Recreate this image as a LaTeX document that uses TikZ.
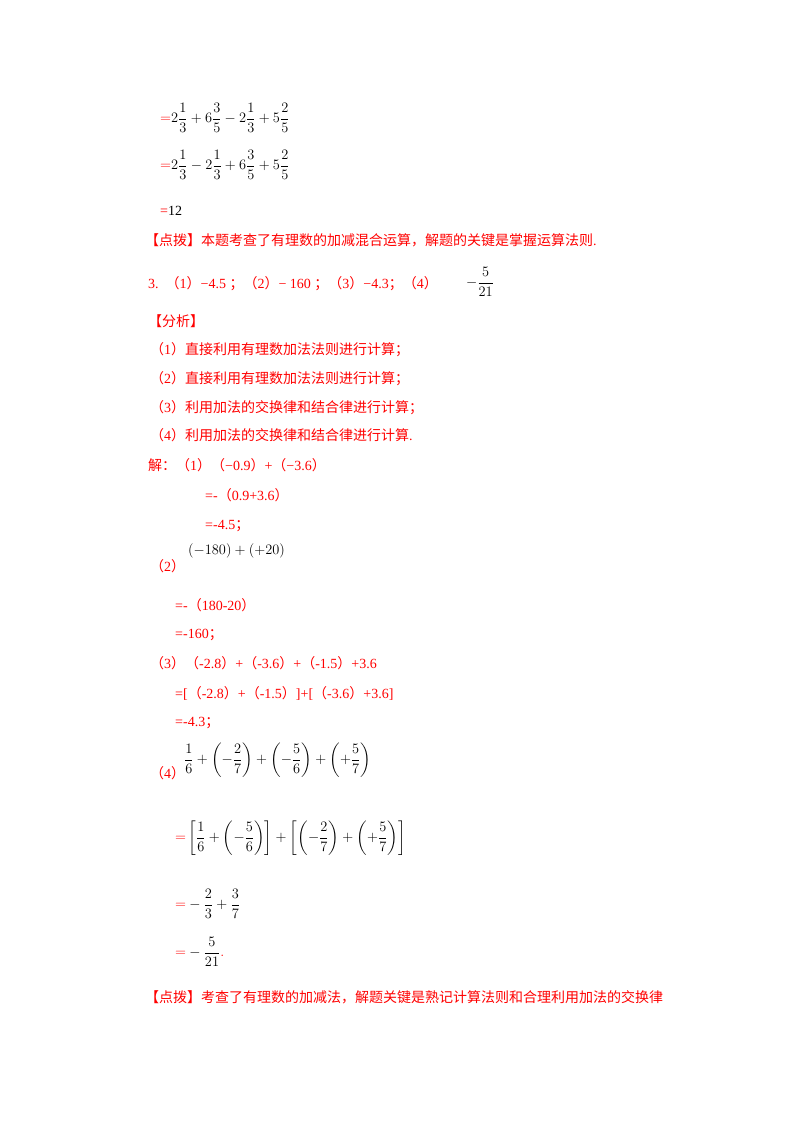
\documentclass[tikz,border=0pt]{standalone}
\usepackage{amsmath}
\usepackage{fontspec}
\setmainfont{Liberation Serif}
\newfontfamily\cjk{Noto Sans CJK SC}
\definecolor{rd}{RGB}{255,0,0}
\newcommand{\zh}[1]{{\cjk #1}}
\begin{document}
\begin{tikzpicture}[x=1pt,y=-1pt,
  t/.style={anchor=base west,inner sep=0pt,font=\fontsize{14}{17}\selectfont},
  r/.style={t,text=rd},
  m/.style={anchor=west,inner sep=0pt,font=\fontsize{15}{18}\selectfont}]
\useasboundingbox[fill=white] (0,0) rectangle (800,1132);
\node[m] (l1) at (160,118) {$\textcolor{rd}{=}2\dfrac13+6\dfrac35-2\dfrac13+5\dfrac25$};
\node[m] (l2) at (160,165) {$\textcolor{rd}{=}2\dfrac13-2\dfrac13+6\dfrac35+5\dfrac25$};
\node[t] (l3) at (160,215) {\textcolor{rd}{=}12};
\node[r] (d1) at (145,245) {\zh{【点拨】本题考查了有理数的加减混合运算，解题的关键是掌握运算法则}.};
\node[r] (a3) at (148,288) {3.\ \ \zh{（}1\zh{）}−4.5 \zh{；（}2\zh{）}− 160 \zh{；（}3\zh{）}−4.3\zh{；（}4\zh{）}};
\node[m] (a3f) at (466,282) {$-\dfrac{5}{21}$};
\node[r] (fx) at (148,326) {\zh{【分析】}};
\node[r] (f1) at (150,354) {\zh{（}1\zh{）直接利用有理数加法法则进行计算；}};
\node[r] (f2) at (150,383) {\zh{（}2\zh{）直接利用有理数加法法则进行计算；}};
\node[r] (f3) at (150,412) {\zh{（}3\zh{）利用加法的交换律和结合律进行计算；}};
\node[r] (f4) at (150,440) {\zh{（}4\zh{）利用加法的交换律和结合律进行计算}.};
\node[r] (j1) at (148,470) {\zh{解：（}1\zh{）（}−0.9\zh{）}+\zh{（}−3.6\zh{）}};
\node[r] (j2) at (205,500) {=-\zh{（}0.9+3.6\zh{）}};
\node[r] (j3) at (205,529) {=-4.5\zh{；}};
\node[m] (k0) at (188,551) {$(-180)+(+20)$};
\node[r] (k1) at (150,571) {\zh{（}2\zh{）}};
\node[r] (k2) at (175,610) {=-\zh{（}180-20\zh{）}};
\node[r] (k3) at (175,638) {=-160\zh{；}};
\node[r] (p1) at (150,668) {\zh{（}3\zh{）（}-2.8\zh{）}+\zh{（}-3.6\zh{）}+\zh{（}-1.5\zh{）}+3.6};
\node[r] (p2) at (175,698) {=[\zh{（}-2.8\zh{）}+\zh{（}-1.5\zh{）}]+[\zh{（}-3.6\zh{）}+3.6]};
\node[r] (p3) at (175,726) {=-4.3\zh{；}};
\node[r] (q1) at (150,778) {\zh{（}4\zh{）}};
\node[m] (q0) at (184,760) {$\dfrac16+\left(-\dfrac27\right)+\left(-\dfrac56\right)+\left(+\dfrac57\right)$};
\node[m] (q2) at (175,838) {$\textcolor{rd}{=}\left[\dfrac16+\left(-\dfrac56\right)\right]+\left[\left(-\dfrac27\right)+\left(+\dfrac57\right)\right]$};
\node[m] (q3) at (175,904) {$\textcolor{rd}{=}-\dfrac23+\dfrac37$};
\node[m] (q4) at (175,952) {$\textcolor{rd}{=}-\dfrac5{21}\textcolor{rd}{.}$};
\node[r] (d2) at (145,1002) {\zh{【点拨】考查了有理数的加减法，解题关键是熟记计算法则和合理利用加法的交换律}};
\end{tikzpicture}
\end{document}
